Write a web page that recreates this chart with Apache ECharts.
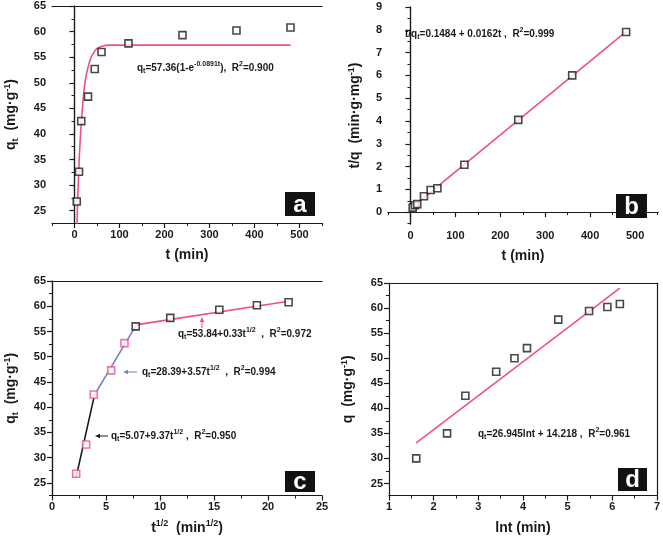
<!DOCTYPE html>
<html><head><meta charset="utf-8">
<script src="https://cdn.jsdelivr.net/npm/echarts@6/dist/echarts.min.js"></script>
<style>html,body{margin:0;padding:0;background:#fff}#c{width:663px;height:536px}</style>
</head><body><div id="c"></div>
<script>
// ---- data ----
const tMin = [5, 10, 15, 30, 45, 60, 120, 240, 360, 480];
const qA = [26.8, 32.6, 42.5, 47.3, 52.7, 56.0, 57.7, 59.3, 60.2, 60.8];
const fitA_t = [5, 7.5, 10, 12.5, 15, 20, 25, 30, 35, 40, 50, 60, 70, 80, 100, 150, 480];
const fitA_q = [21.0, 28.0, 34.0, 38.5, 42.0, 47.5, 51.0, 53.0, 54.5, 55.5, 56.7, 57.1, 57.3, 57.35, 57.36, 57.36, 57.36];
const tqB = [0.2, 0.3, 0.35, 0.7, 0.97, 1.05, 2.08, 4.05, 6.0, 7.9];
const fitB_t = [5, 480];
const fitB_v = [0.23, 7.92];
const sqrtT = [2.24, 3.16, 3.87, 5.48, 6.71, 7.75, 10.95, 15.49, 18.97, 21.91];
const qC = [26.8, 32.6, 42.5, 47.3, 52.7, 56.0, 57.7, 59.3, 60.2, 60.8];
const segC1_x = [2.24, 3.87], segC1_y = [26.2, 41.8];
const segC2_x = [3.87, 7.75], segC2_y = [42.2, 56.1];
const segC3_x = [7.75, 21.91], segC3_y = [56.3, 61.0];
const lnT = [1.61, 2.30, 2.71, 3.40, 3.81, 4.09, 4.79, 5.48, 5.89, 6.17];
const qD = [30.0, 35.0, 42.5, 47.3, 50.0, 52.0, 57.7, 59.4, 60.2, 60.8];
const fitD_x = [1.61, 6.17], fitD_y = [33.1, 64.0];
const qTicks = [25, 30, 35, 40, 45, 50, 55, 60, 65];
const qMinor = [22.5, 27.5, 32.5, 37.5, 42.5, 47.5, 52.5, 57.5, 62.5];
const tTicks = [0, 100, 200, 300, 400, 500];
const tMinor = [-50, 50, 150, 250, 350, 450, 550];
const bTicks = [0, 1, 2, 3, 4, 5, 6, 7, 8, 9];
const bMinor = [-0.5, 0.5, 1.5, 2.5, 3.5, 4.5, 5.5, 6.5, 7.5, 8.5];
const cTicks = [0, 5, 10, 15, 20, 25];
const cMinor = [2.5, 7.5, 12.5, 17.5, 22.5];
const dTicks = [1, 2, 3, 4, 5, 6, 7];
const dMinor = [1.5, 2.5, 3.5, 4.5, 5.5, 6.5];

const zip = (a, b) => a.map((v, i) => [v, b[i]]);
const FONT = '"Liberation Sans", Arial, sans-serif';
const PINK = '#ee4f8c', BLUE = '#6f80c6', INK = '#1a1a1a';

const richBase = {
  b: { fontSize: 14, fontWeight: 'bold', fontFamily: FONT, color: INK, fill: INK, lineHeight: 17 },
  sub: { fontSize: 9, fontWeight: 'bold', fontFamily: FONT, color: INK, fill: INK, verticalAlign: 'bottom', lineHeight: 9 },
  sup: { fontSize: 9, fontWeight: 'bold', fontFamily: FONT, color: INK, fill: INK, verticalAlign: 'top', lineHeight: 9 }
};
const richAnn = {
  b: { fontSize: 10, fontWeight: 'bold', fontFamily: FONT, color: INK, fill: INK, lineHeight: 14 },
  sub: { fontSize: 7, fontWeight: 'bold', fontFamily: FONT, color: INK, fill: INK, verticalAlign: 'bottom', lineHeight: 7 },
  sup: { fontSize: 7, fontWeight: 'bold', fontFamily: FONT, color: INK, fill: INK, verticalAlign: 'top', lineHeight: 7 }
};

const grids = [
  { left: 52, top: 6, width: 270, height: 217 },
  { left: 388, top: 7, width: 270, height: 217 },
  { left: 52, top: 281, width: 270, height: 217 },
  { left: 389, top: 283, width: 269, height: 216 }
];

const xAxes = [], yAxes = [];
const axisIdx = [];
function addAxes(gi, xc, yc) {
  const lbl = { fontSize: 11, fontWeight: 'bold', fontFamily: FONT, color: INK };
  const line = { show: true, lineStyle: { color: INK, width: 1.2 } };
  const xi = xAxes.length, yi = yAxes.length;
  xAxes.push({
    type: 'value', gridIndex: gi, min: xc.min, max: xc.max, position: 'bottom',
    axisLine: line, splitLine: { show: false },
    axisTick: { show: true, length: 5, lineStyle: { color: INK, width: 1.2 }, customValues: xc.major },
    axisLabel: Object.assign({ customValues: xc.major, margin: 6 }, lbl),
    name: xc.name, nameLocation: 'middle', nameGap: xc.gap,
    nameTextStyle: { rich: richBase }
  });
  xAxes.push({
    type: 'value', gridIndex: gi, min: xc.min, max: xc.max, position: 'bottom',
    axisLine: { show: false }, splitLine: { show: false }, axisLabel: { show: false },
    axisTick: { show: true, length: 3, lineStyle: { color: INK, width: 1 }, customValues: xc.minor }
  });
  xAxes.push({
    type: 'value', gridIndex: gi, min: xc.min, max: xc.max, position: 'top',
    axisLine: line, splitLine: { show: false }, axisLabel: { show: false }, axisTick: { show: false }
  });
  yAxes.push({
    type: 'value', gridIndex: gi, min: yc.min, max: yc.max, position: 'left',
    axisLine: line, splitLine: { show: false },
    axisTick: { show: true, length: 5, lineStyle: { color: INK, width: 1.2 }, customValues: yc.major },
    axisLabel: Object.assign({ customValues: yc.major, margin: 6 }, lbl),
    name: yc.name, nameLocation: 'middle', nameGap: yc.gap, nameRotate: 90,
    nameTextStyle: { rich: richBase }
  });
  yAxes.push({
    type: 'value', gridIndex: gi, min: yc.min, max: yc.max, position: 'left',
    axisLine: { show: false }, splitLine: { show: false }, axisLabel: { show: false },
    axisTick: { show: true, length: 3, lineStyle: { color: INK, width: 1 }, customValues: yc.minor }
  });
  yAxes.push({
    type: 'value', gridIndex: gi, min: yc.min, max: yc.max, position: 'right',
    axisLine: line, splitLine: { show: false }, axisLabel: { show: false }, axisTick: { show: false }
  });
  axisIdx.push({ x: xi, y: yi });
}

addAxes(0, { min: -50, max: 550, major: tTicks, minor: tMinor, name: '{b|t (min)}', gap: 24 },
           { min: 22.6, max: 65, major: qTicks, minor: qMinor, name: '{b|q}{sub|t}{b|  (mg·g}{sup|-1}{b|)}', gap: 32 });
addAxes(1, { min: -50, max: 551, major: tTicks, minor: tMinor, name: '{b|t (min)}', gap: 24 },
           { min: -0.52, max: 9, major: bTicks, minor: bMinor, name: '{b|t/q  (min·g·mg}{sup|-1}{b|)}', gap: 24 });
addAxes(2, { min: 0, max: 25, major: cTicks, minor: cMinor, name: '{b|t}{sup|1/2}{b|  (min}{sup|1/2}{b|)}', gap: 24 },
           { min: 22.5, max: 65, major: qTicks, minor: qMinor, name: '{b|q}{sub|t}{b|  (mg·g}{sup|-1}{b|)}', gap: 32 });
addAxes(3, { min: 1, max: 7, major: dTicks, minor: dMinor, name: '{b|lnt (min)}', gap: 24 },
           { min: 22.6, max: 65, major: qTicks, minor: qMinor, name: '{b|q  (mg·g}{sup|-1}{b|)}', gap: 32 });

function scatter(gi, data, color) {
  return {
    type: 'scatter', xAxisIndex: axisIdx[gi].x, yAxisIndex: axisIdx[gi].y, data: data,
    symbol: 'rect', symbolSize: 7, z: 5,
    itemStyle: { color: '#fff', borderColor: color || INK, borderWidth: 1.6 }
  };
}
function line(gi, data, color, smooth) {
  return {
    type: 'line', xAxisIndex: axisIdx[gi].x, yAxisIndex: axisIdx[gi].y, data: data,
    showSymbol: false, smooth: !!smooth, clip: true, z: 3,
    lineStyle: { color: color, width: 1.6 }
  };
}

const series = [
  line(0, zip(fitA_t, fitA_q), PINK, true),
  scatter(0, zip(tMin, qA)),
  line(1, zip(fitB_t, fitB_v), PINK),
  scatter(1, zip(tMin, tqB)),
  line(2, zip(segC1_x, segC1_y), INK),
  line(2, zip(segC2_x, segC2_y), BLUE),
  line(2, zip(segC3_x, segC3_y), PINK),
  scatter(2, zip(sqrtT.slice(0, 5), qC.slice(0, 5)), PINK),
  scatter(2, zip(sqrtT.slice(5), qC.slice(5))),
  line(3, zip(fitD_x, fitD_y), PINK),
  scatter(3, zip(lnT, qD))
];

function ann(x, y, text) {
  return { type: 'text', left: x, top: y, z: 20, style: { text: text, rich: richAnn, fill: INK, font: 'bold 10px ' + FONT } };
}
function box(x, y, w, h, ch) {
  return [
    { type: 'rect', shape: { x: x, y: y, width: w, height: h }, style: { fill: '#111' }, z: 20 },
    { type: 'text', x: x + w / 2, y: y + h / 2 + 1, z: 21,
      style: { text: ch, fill: '#fff', font: 'bold 24px ' + FONT, textAlign: 'center', textVerticalAlign: 'middle' } }
  ];
}
function arrow(x1, y1, x2, y2, color) {
  const dx = x2 - x1, dy = y2 - y1, L = Math.hypot(dx, dy), ux = dx / L, uy = dy / L;
  const hl = 5, hw = 2.2;
  const bx = x2 - ux * hl, by = y2 - uy * hl;
  return [
    { type: 'line', shape: { x1: x1, y1: y1, x2: bx, y2: by }, style: { stroke: color, lineWidth: 1 }, z: 20 },
    { type: 'polygon', shape: { points: [[x2, y2], [bx - uy * hw, by + ux * hw], [bx + uy * hw, by - ux * hw]] }, style: { fill: color }, z: 20 }
  ];
}

const graphic = [].concat(
  [ann(137, 61, '{b|q}{sub|t}{b|=57.36(1-e}{sup|-0.0891t}{b|),  R}{sup|2}{b|=0.900}')],
  [ann(405, 27, '{b|t/q}{sub|t}{b|=0.1484 + 0.0162t ,  R}{sup|2}{b|=0.999}')],
  [ann(178, 327, '{b|q}{sub|t}{b|=53.84+0.33t}{sup|1/2}{b|  ,  R}{sup|2}{b|=0.972}')],
  [ann(142, 365, '{b|q}{sub|t}{b|=28.39+3.57t}{sup|1/2}{b|  ,  R}{sup|2}{b|=0.994}')],
  [ann(111, 429, '{b|q}{sub|t}{b|=5.07+9.37t}{sup|1/2}{b| ,  R}{sup|2}{b|=0.950}')],
  [ann(478, 427, '{b|q}{sub|t}{b|=26.945lnt + 14.218 ,  R}{sup|2}{b|=0.961}')],
  arrow(108, 436, 95, 436, INK),
  arrow(137, 372, 123, 372, BLUE),
  arrow(202, 328, 202, 317, PINK),
  box(285, 192, 30, 24, 'a'),
  box(616, 194, 31, 24, 'b'),
  box(285, 471, 30, 21, 'c'),
  box(618, 468, 29, 23, 'd')
);

const chart = echarts.init(document.getElementById('c'), null, { renderer: 'canvas' });
chart.setOption({
  animation: false,
  backgroundColor: '#fff',
  grid: grids,
  xAxis: xAxes,
  yAxis: yAxes,
  series: series,
  graphic: graphic
});
</script></body></html>
